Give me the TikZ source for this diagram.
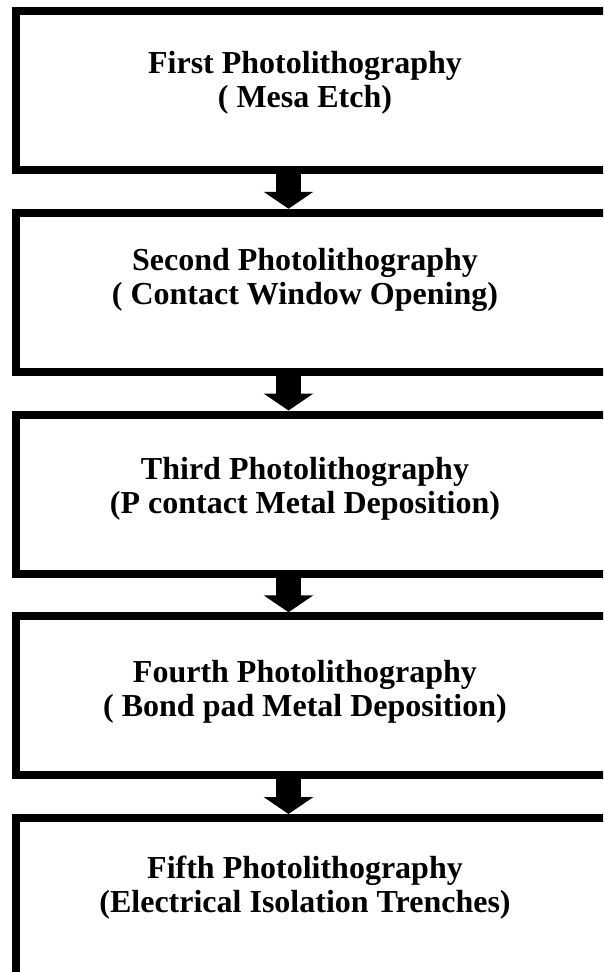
\documentclass[tikz,border=0pt]{standalone}
\usepackage{fontspec}
\setmainfont{Liberation Serif}
\usetikzlibrary{arrows.meta,positioning}

\begin{document}
\begin{tikzpicture}[x=1pt,y=1pt,
    procbox/.style={draw, line width=8pt, minimum width=624pt, minimum height=159pt},
    proctext/.style={align=center, font=\bfseries\fontsize{32}{34}\selectfont, xshift=-23pt},
    flow/.style={line width=25pt, -{Triangle[width=49pt,length=17pt]}},
    node distance=34.75pt]
  \useasboundingbox (0,0) rectangle (603,-972);
  \clip (0,0) rectangle (603,-972);

  \node[procbox] (box1) at (328,-90.5) {};
  \node[procbox, below=of box1] (box2) {};
  \node[procbox, below=of box2] (box3) {};
  \node[procbox, below=of box3] (box4) {};
  \node[procbox, below=of box4] (box5) {};

  \node[proctext, yshift=8pt] (t1) at (box1.center) {First Photolithography\\( Mesa Etch)};
  \node[proctext, yshift=12pt] (t2) at (box2.center) {Second Photolithography\\( Contact Window Opening)};
  \node[proctext, yshift=5pt] (t3) at (box3.center) {Third Photolithography\\(P contact Metal Deposition)};
  \node[proctext, yshift=4pt] (t4) at (box4.center) {Fourth Photolithography\\( Bond pad Metal Deposition)};
  \node[proctext, yshift=10pt] (t5) at (box5.center) {Fifth Photolithography\\(Electrical Isolation Trenches)};

  \coordinate (ax) at (288.5,0);
  \foreach \a/\b in {box1/box2, box2/box3, box3/box4, box4/box5}
    \draw[flow] (\a.south -| ax) -- (\b.north -| ax);
\end{tikzpicture}
\end{document}
